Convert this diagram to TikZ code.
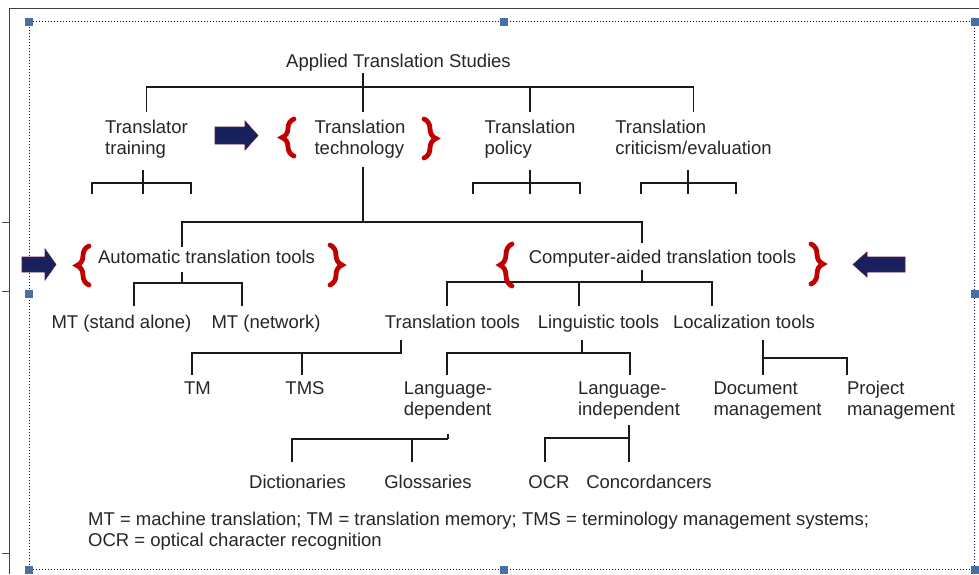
\documentclass[tikz,border=0pt]{standalone}
\usepackage{fontspec}
\setmainfont{Liberation Sans}
\usetikzlibrary{decorations.pathreplacing}
\definecolor{txt}{HTML}{262626}
\definecolor{lin}{HTML}{1A1A1A}
\definecolor{bred}{HTML}{C00000}
\definecolor{navy}{HTML}{18215E}
\definecolor{hdl}{HTML}{4A6FA8}
\newcommand{\lph}{\vphantom{Ay}}
\begin{document}
\begin{tikzpicture}[x=1pt,y=1pt,
  lbl/.style={inner sep=0pt, text=txt, font=\fontsize{18.5}{21}\selectfont, align=left},
  conn/.style={draw=lin, line width=1.7pt},
  brc/.style={draw=bred, line width=4.8pt, line cap=round, decorate, decoration={brace, amplitude=12pt, aspect=0.5}},
  blk/.style={fill=navy, draw=navy!70!red, line width=0.6pt},
  hnd/.style={fill=hdl, draw=none, minimum size=8pt, inner sep=0pt, shape=rectangle},
]
\useasboundingbox (0,0) rectangle (979,-574);
\fill[white] (0,0) rectangle (979,-574);

% window frame
\draw[line width=1.3pt, color=black!75] (9.5,-574) -- (9.5,-8.5) -- (979,-8.5);
\foreach \ty in {222,291,553} \draw[line width=0.8pt, color=black!70] (2,-\ty) -- (10,-\ty);
\draw[dotted, line width=1pt, color=black!70!blue] (29,-21) rectangle (974.5,-569);
\foreach \hx/\hy [count=\i] in {29/22,504/22,975/22,29/294,975/294,29/570,504/570,975/570}
  \node[hnd] (h\i) at (\hx,-\hy) {};

% nodes
\node[lbl] (title) at (398.5,-63) {\lph Applied Translation Studies};
\node[lbl] (tr) at (146.5,-139.4) {\lph Translator\\training\lph};
\node[lbl] (tt) at (360,-139.4) {\lph Translation\\technology\lph};
\node[lbl] (tp) at (530,-139.4) {\lph Translation\\policy\lph};
\node[lbl] (tc) at (693.5,-139.4) {\lph Translation\\criticism/evaluation\lph};
\node[lbl] (att) at (206.5,-259) {\lph Automatic translation tools};
\node[lbl] (cat) at (662.5,-259) {\lph Computer-aided translation tools};
\node[lbl] (mt1) at (121.5,-324) {\lph MT (stand alone)};
\node[lbl] (mt2) at (266,-324) {\lph MT (network)};
\node[lbl] (tt1) at (452.5,-324) {\lph Translation tools};
\node[lbl] (lt) at (598.5,-324) {\lph Linguistic tools};
\node[lbl] (loc) at (744,-324) {\lph Localization tools};
\node[lbl] (tm) at (197.5,-390) {\lph TM};
\node[lbl] (tms) at (305,-390) {\lph TMS};
\node[lbl] (ld) at (448,-400.4) {\lph Language-\\dependent\lph};
\node[lbl] (li) at (629,-400.4) {\lph Language-\\independent\lph};
\node[lbl] (dm) at (767.5,-400.4) {\lph Document\\management\lph};
\node[lbl] (pm) at (901,-400.4) {\lph Project\\management\lph};
\node[lbl] (dict) at (297.5,-484) {\lph Dictionaries};
\node[lbl] (gloss) at (428,-484) {\lph Glossaries};
\node[lbl] (ocr) at (549,-484) {\lph OCR};
\node[lbl] (conc) at (649,-484) {\lph Concordancers};
\node[lbl, anchor=west] (note) at (88,-531.4) {\lph MT = machine translation; TM = translation memory; TMS = terminology management systems;\\OCR = optical character recognition\lph};

% junction coordinates
\coordinate (r1) at (363,-87);
\coordinate (r2) at (363,-222);
\coordinate (a1) at (182,-222);
\coordinate (c1) at (642,-222);
\coordinate (a2) at (182,-283);
\coordinate (c2) at (642,-282);
\coordinate (t2) at (401,-353);
\coordinate (l2) at (582,-353);
\coordinate (d2) at (448,-439);
\coordinate (i2) at (629,-438);
\coordinate (m2) at (763,-358);
\coordinate (trb) at (143,-183);
\coordinate (tpb) at (530,-183);
\coordinate (tcb) at (688,-183);

% level 1
\draw[conn] ([yshift=-1.5pt]title.south -| r1) -- (r1);
\draw[conn] ([yshift=8.4pt]tr.north) -- (tr.north |- r1) -- (tc.north |- r1) -- ([yshift=8.4pt]tc.north);
\draw[conn] ([yshift=8.4pt]tt.north -| r1) -- (r1);
\draw[conn] ([yshift=8.4pt]tp.north) -- (tp.north |- r1);

% small brackets under the first-level nodes
\draw[conn] ([yshift=-11.5pt]tr.south -| trb) -- ++(0,-24);
\draw[conn] ([shift={(-51,-11)}]trb) |- ([shift={(48,0)}]trb) -- ++(0,-11);
\draw[conn] ([yshift=-11.5pt]tp.south -| tpb) -- ++(0,-24);
\draw[conn] ([shift={(-57,-11)}]tpb) |- ([shift={(50,0)}]tpb) -- ++(0,-11);
\draw[conn] ([yshift=-11.5pt]tc.south -| tcb) -- ++(0,-24);
\draw[conn] ([shift={(-47,-11)}]tcb) |- ([shift={(48,0)}]tcb) -- ++(0,-11);

% technology branch
\draw[conn] ([yshift=-8.5pt]tt.south -| r2) -- (r2);
\draw[conn] ([yshift=3.4pt]att.north -| a1) -- (a1) -- (c1) -- ([yshift=7.4pt]cat.north -| c1);

% automatic tools
\draw[conn] ([yshift=-4.4pt]att.south -| a2) -- (a2);
\draw[conn] ([xshift=12.5pt,yshift=9.4pt]mt1.north) |- (a2) -| ([xshift=-24pt,yshift=9.4pt]mt2.north);

% computer-aided tools
\draw[conn] ([yshift=-2.4pt]cat.south -| c2) -- (c2);
\draw[conn] ([xshift=-5.5pt,yshift=9.4pt]tt1.north) |- (c2) -| ([xshift=-32pt,yshift=9.4pt]loc.north);
\draw[conn] ([xshift=-19.5pt,yshift=9.4pt]lt.north) -- ([xshift=-19.5pt]lt.north |- c2);

% translation tools
\draw[conn] ([xshift=-51.5pt,yshift=-7.4pt]tt1.south) -- (t2) -| ([xshift=-5.5pt,yshift=6.4pt]tm.north);
\draw[conn] ([xshift=-3pt,yshift=6.4pt]tms.north) -- ([xshift=-3pt]tms.north |- t2);

% linguistic tools
\draw[conn] ([xshift=-16.5pt,yshift=-7.4pt]lt.south) -- (l2);
\draw[conn] ([xshift=-1pt,yshift=6.4pt]ld.north) |- (l2) -| ([xshift=1pt,yshift=6.4pt]li.north);

% language-dependent
\draw[conn] ([yshift=-14.5pt]ld.south -| d2) -- (d2);
\draw[conn] ([xshift=-5.5pt,yshift=13.4pt]dict.north) |- (d2);
\draw[conn] ([xshift=-16pt,yshift=13.4pt]gloss.north) -- ([xshift=-16pt]gloss.north |- d2);

% language-independent
\draw[conn] ([yshift=-5.5pt]li.south -| i2) -- ([xshift=-20pt,yshift=13.4pt]conc.north);
\draw[conn] ([xshift=-4pt,yshift=13.4pt]ocr.north) |- (i2);

% localization tools
\draw[conn] ([xshift=19pt,yshift=-7.4pt]loc.south) -- ([xshift=-4.5pt,yshift=6.4pt]dm.north);
\draw[conn] (m2) -| ([xshift=-54pt,yshift=6.4pt]pm.north);

% red braces
\draw[brc] (294,-156) -- (294,-119);
\draw[brc] (424,-119) -- (424,-158);
\draw[brc] (89,-285) -- (89,-246);
\draw[brc] (330,-245) -- (330,-285);
\draw[brc] (512,-286) -- (512,-244);
\draw[brc] (811,-244) -- (811,-284);

% navy block arrows
\draw[blk] (215,-127) -- (245,-127) -- (245,-121) -- (258,-135.5) -- (245,-150) -- (245,-144) -- (215,-144) -- cycle;
\draw[blk] (905,-257) -- (867,-257) -- (867,-252) -- (853,-264.5) -- (867,-277) -- (867,-272) -- (905,-272) -- cycle;
\draw[blk] (22,-257) -- (45,-257) -- (45,-249) -- (56,-264.5) -- (45,-280) -- (45,-272) -- (22,-272) -- cycle;
\end{tikzpicture}
\end{document}
